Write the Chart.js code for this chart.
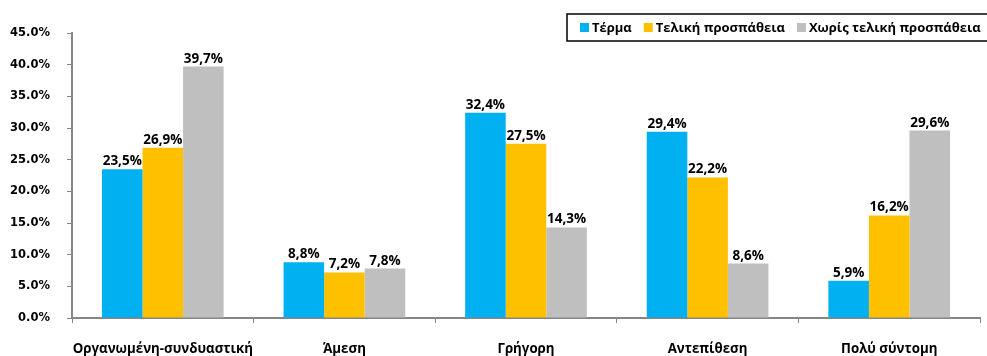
<!DOCTYPE html>
<html>
<head>
<meta charset="utf-8">
<script src="https://cdn.jsdelivr.net/npm/chart.js@4/dist/chart.umd.min.js"></script>
<style>
  html, body { margin: 0; padding: 0; background: #fff; }
  #wrap { width: 987px; height: 356px; position: relative; }
</style>
</head>
<body>
<div id="wrap"><canvas id="myChart"></canvas></div>
<script>
// categories and series
const categories = ['Οργανωμένη-συνδυαστική', 'Άμεση', 'Γρήγορη', 'Αντεπίθεση', 'Πολύ σύντομη']
const seriesNames = ['Τέρμα', 'Τελική προσπάθεια', 'Χωρίς τελική προσπάθεια']
const goalValues = [23.5, 8.8, 32.4, 29.4, 5.9]
const finalValues = [26.9, 7.2, 27.5, 22.2, 16.2]
const noFinalValues = [39.7, 7.8, 14.3, 8.6, 29.6]
const colors = ['#00B0F0', '#FFC000', '#BFBFBF']

const axisColor = '#868686'
const textFont = '"Open Sans", "DejaVu Sans", sans-serif'

// value labels over each bar, e.g. "23,5%"
const barLabels = {
	id: 'barLabels',
	afterDatasetsDraw(chart) {
		const ctx = chart.ctx
		ctx.save()
		ctx.font = 'bold 13.5px ' + textFont
		ctx.fillStyle = '#000'
		ctx.textAlign = 'center'
		ctx.textBaseline = 'alphabetic'
		chart.data.datasets.forEach((ds, i) => {
			chart.getDatasetMeta(i).data.forEach((bar, j) => {
				let txt = ds.data[j].toFixed(1).replace('.', ',') + '%'
				ctx.fillText(txt, bar.x, bar.y - 4)
			})
		})
		ctx.restore()
	}
}

// boxed legend in the upper right corner
const boxLegend = {
	id: 'boxLegend',
	afterDraw(chart) {
		const ctx = chart.ctx
		ctx.save()
		ctx.font = 'bold 13px ' + textFont
		ctx.textBaseline = 'middle'
		let left = 567, top = 14, h = 27
		ctx.strokeStyle = '#000'
		ctx.lineWidth = 1.5
		ctx.strokeRect(left, top, chart.width - left + 5, h)
		let x = 580
		let cy = top + h / 2
		chart.data.datasets.forEach(ds => {
			ctx.fillStyle = ds.backgroundColor
			ctx.fillRect(x, cy - 4.5, 9, 9)
			x += 12
			ctx.fillStyle = '#000'
			ctx.fillText(ds.label, x, cy + 0.5)
			x += ctx.measureText(ds.label).width + 12
		})
		ctx.restore()
	}
}

let data = {
	labels: categories,
	datasets: [
		{ label: seriesNames[0], data: goalValues, backgroundColor: colors[0] },
		{ label: seriesNames[1], data: finalValues, backgroundColor: colors[1] },
		{ label: seriesNames[2], data: noFinalValues, backgroundColor: colors[2] }
	]
}

let ctx = document.getElementById('myChart').getContext('2d')
let myBarChart = new Chart(ctx, {
	type: 'bar',
	data: data,
	plugins: [barLabels, boxLegend],
	options: {
		responsive: true,
		maintainAspectRatio: false,
		animation: false,
		layout: { padding: { top: 33, right: 7, left: 0, bottom: 0 } },
		datasets: {
			bar: { categoryPercentage: 0.67, barPercentage: 1.0, borderWidth: 0 }
		},
		plugins: {
			legend: { display: false },
			tooltip: { enabled: false }
		},
		scales: {
			x: {
				grid: { display: true, drawOnChartArea: false, drawTicks: true, tickLength: 5, color: axisColor, offset: true },
				border: { color: axisColor, width: 2 },
				ticks: {
					padding: 18,
					color: '#000',
					maxRotation: 0,
					autoSkip: false,
					font: { family: textFont, size: 13.3, weight: 'bold' }
				},
				afterFit: s => { s.height = 38 }
			},
			y: {
				min: 0,
				max: 45,
				grid: { display: true, drawOnChartArea: false, drawTicks: true, tickLength: 5, color: axisColor },
				border: { color: axisColor, width: 2 },
				ticks: {
					stepSize: 5,
					padding: 17,
					color: '#000',
					font: { family: '"DejaVu Sans", sans-serif', size: 11.5, weight: 'bold' },
					callback: v => v.toFixed(1) + '%'
				},
				afterFit: s => { s.width = 72 }
			}
		}
	}
})
</script>
</body>
</html>
